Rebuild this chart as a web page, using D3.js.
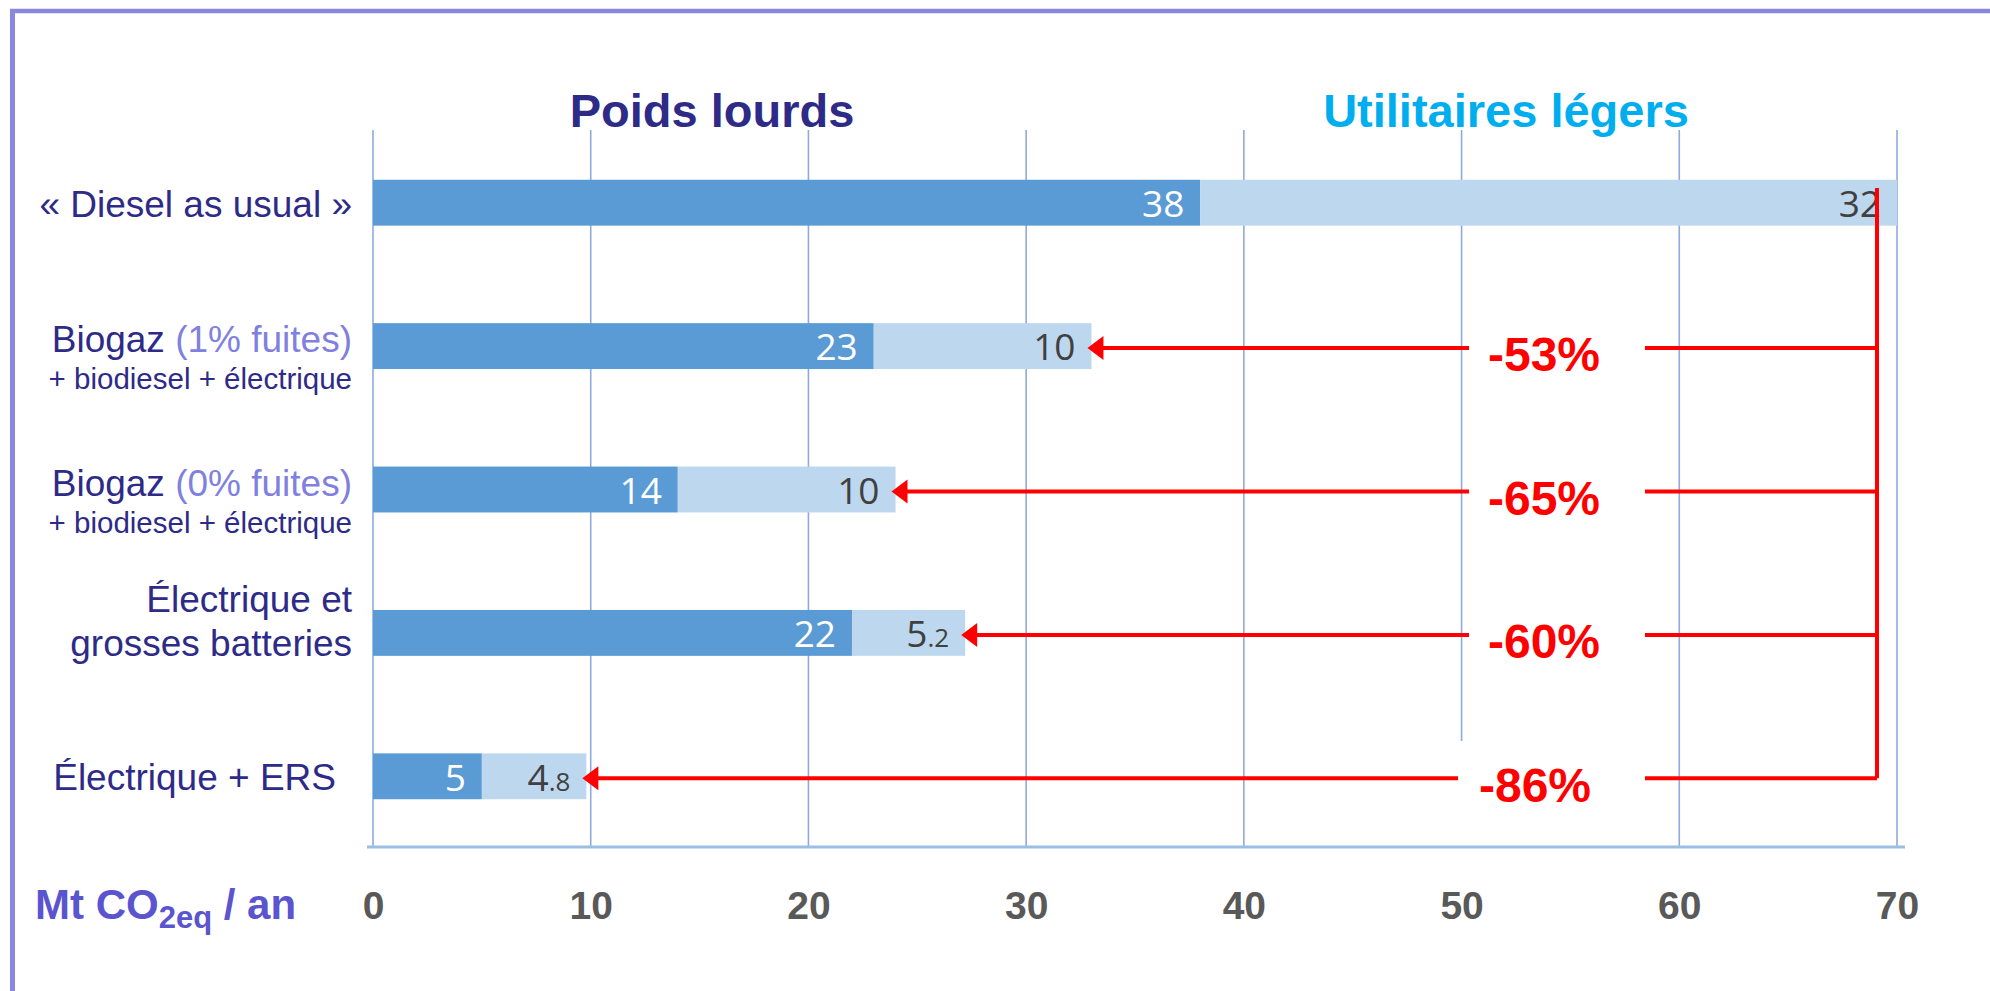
<!DOCTYPE html>
<html>
<head>
<meta charset="utf-8">
<script src="https://cdn.jsdelivr.net/npm/d3@7"></script>
<style>
  html, body { margin: 0; padding: 0; background: #ffffff; }
  svg { display: block; }
</style>
</head>
<body>
<script>
// ---------- DATA ----------
const categoryMain = ["« Diesel as usual »", "Biogaz", "Biogaz", "Électrique et", "Électrique + ERS"];
const categoryNote = ["", "(1% fuites)", "(0% fuites)", "", ""];
const categorySub  = ["", "+ biodiesel + électrique", "+ biodiesel + électrique", "grosses batteries", ""];
const seriesNames  = ["Poids lourds", "Utilitaires légers"];
const poidsLourds  = [38, 23, 14, 22, 5];
const utilitaires  = [32, 10, 10, 5.2, 4.8];
const reductions   = ["", "-53%", "-65%", "-60%", "-86%"];
const xTicks       = [0, 10, 20, 30, 40, 50, 60, 70];
const unitLabel    = ["Mt CO", "2eq", " / an"];

// ---------- SETUP ----------
const W = 1990, H = 991;
const svg = d3.select("body").append("svg").attr("width", W).attr("height", H);
svg.append("rect").attr("width", W).attr("height", H).attr("fill", "#ffffff");

// frame
svg.append("line").attr("x1", 10).attr("x2", W).attr("y1", 11).attr("y2", 11)
  .attr("stroke", "#8888dd").attr("stroke-width", 4.5);
svg.append("line").attr("x1", 12.5).attr("x2", 12.5).attr("y1", 9).attr("y2", H)
  .attr("stroke", "#8888dd").attr("stroke-width", 5);

const x = d3.scaleLinear().domain([0, 70]).range([373, 1897]);
const y = d3.scaleBand().domain(d3.range(categoryMain.length)).range([131, 848])
  .paddingInner(0.68).paddingOuter(0.34);
const yc = i => y(i) + y.bandwidth() / 2;

const COL_DARK = "#5b9bd5", COL_LIGHT = "#bdd7ee";
const NAVY = "#2e2b88", PURPLE_LIGHT = "#8080e0", CYAN = "#00aeef";

// gridlines
svg.append("g").selectAll("line").data(xTicks).join("line")
  .attr("x1", d => x(d)).attr("x2", d => x(d))
  .attr("y1", 130).attr("y2", 847)
  .attr("stroke", "#8eaadb").attr("stroke-width", 1.6);

// white box behind last reduction label (hides gridline)
svg.append("rect").attr("x", 1452).attr("y", 741).attr("width", 190).attr("height", 106)
  .attr("fill", "#ffffff");

// axis baseline
svg.append("line").attr("x1", x(0) - 6).attr("x2", x(70) + 8)
  .attr("y1", 847).attr("y2", 847)
  .attr("stroke", "#9dbde6").attr("stroke-width", 3);

// x tick labels via d3 axis
const axis = d3.axisBottom(x).tickValues(xTicks).tickSize(0).tickPadding(0).tickFormat(d3.format("d"));
const axG = svg.append("g").attr("transform", "translate(0,905)").call(axis);
axG.select(".domain").remove();
axG.selectAll("text")
  .attr("font-family", "'Liberation Sans', Arial, sans-serif")
  .attr("font-weight", "bold").attr("font-size", 39)
  .attr("fill", "#595959").attr("dy", "0.36em");

// unit label
const ut = svg.append("text").attr("x", 35).attr("y", 919)
  .attr("font-family", "'Liberation Sans', Arial, sans-serif")
  .attr("font-weight", "bold").attr("font-size", 42).attr("fill", "#5a55cf");
ut.append("tspan").text(unitLabel[0]);
ut.append("tspan").text(unitLabel[1]).attr("font-size", 31).attr("dy", 9);
ut.append("tspan").text(unitLabel[2]).attr("dy", -9);

// series titles
svg.append("text").attr("x", 712).attr("y", 127).attr("text-anchor", "middle")
  .attr("font-family", "'Liberation Sans', Arial, sans-serif").attr("font-weight", "bold")
  .attr("font-size", 47).attr("fill", NAVY).text(seriesNames[0]);
svg.append("text").attr("x", 1506).attr("y", 127).attr("text-anchor", "middle")
  .attr("font-family", "'Liberation Sans', Arial, sans-serif").attr("font-weight", "bold")
  .attr("font-size", 47).attr("fill", CYAN).text(seriesNames[1]);

// bars
const rows = d3.range(categoryMain.length);
svg.append("g").selectAll("rect").data(rows).join("rect")
  .attr("x", x(0)).attr("y", i => y(i))
  .attr("width", i => x(poidsLourds[i]) - x(0)).attr("height", y.bandwidth())
  .attr("fill", COL_DARK);
svg.append("g").selectAll("rect").data(rows).join("rect")
  .attr("x", i => x(poidsLourds[i])).attr("y", i => y(i))
  .attr("width", i => x(poidsLourds[i] + utilitaires[i]) - x(poidsLourds[i])).attr("height", y.bandwidth())
  .attr("fill", COL_LIGHT);

// data labels
const LBL_FONT = "'Open Sans', 'Liberation Sans', sans-serif";
rows.forEach(i => {
  svg.append("text").attr("x", x(poidsLourds[i]) - 16).attr("y", yc(i) + 1)
    .attr("dy", "0.36em").attr("text-anchor", "end")
    .attr("font-family", LBL_FONT).attr("font-size", 37).attr("fill", "#ffffff")
    .text(poidsLourds[i]);
  const s = String(utilitaires[i]);
  const parts = s.split(".");
  const t = svg.append("text").attr("x", x(poidsLourds[i] + utilitaires[i]) - 16).attr("y", yc(i) + 1)
    .attr("dy", "0.36em").attr("text-anchor", "end")
    .attr("font-family", LBL_FONT).attr("font-size", 37).attr("fill", "#404040");
  t.append("tspan").text(parts[0]);
  if (parts.length > 1) t.append("tspan").attr("font-size", 26).text("." + parts[1]);
});

// category labels
const CAT_FONT = "'Liberation Sans', Arial, sans-serif";
rows.forEach(i => {
  const c = yc(i);
  const hasSub = categorySub[i] !== "";
  const subSmall = categoryNote[i] !== "";
  let xr = 352;
  if (!hasSub) {
    if (i === rows.length - 1) xr = 336;
    svg.append("text").attr("x", xr).attr("y", c + 14).attr("text-anchor", "end")
      .attr("font-family", CAT_FONT).attr("font-size", 37).attr("fill", NAVY)
      .text(categoryMain[i]);
  } else if (subSmall) {
    const t = svg.append("text").attr("x", xr).attr("y", c + 6).attr("text-anchor", "end")
      .attr("font-family", CAT_FONT).attr("font-size", 37).attr("fill", NAVY);
    t.append("tspan").text(categoryMain[i] + " ");
    t.append("tspan").attr("fill", PURPLE_LIGHT).text(categoryNote[i]);
    svg.append("text").attr("x", xr).attr("y", c + 43).attr("text-anchor", "end")
      .attr("font-family", CAT_FONT).attr("font-size", 29.5).attr("fill", NAVY)
      .text(categorySub[i]);
  } else {
    svg.append("text").attr("x", xr).attr("y", c - 21).attr("text-anchor", "end")
      .attr("font-family", CAT_FONT).attr("font-size", 37).attr("fill", NAVY)
      .text(categoryMain[i]);
    svg.append("text").attr("x", xr).attr("y", c + 23).attr("text-anchor", "end")
      .attr("font-family", CAT_FONT).attr("font-size", 37).attr("fill", NAVY)
      .text(categorySub[i]);
  }
});

// red reduction annotations
const RED = "#ff0000";
const vx = 1877;
svg.append("line").attr("x1", vx).attr("x2", vx).attr("y1", 188).attr("y2", yc(rows.length - 1) + 2)
  .attr("stroke", RED).attr("stroke-width", 4);
rows.filter(i => reductions[i] !== "").forEach(i => {
  const c = yc(i) + 2;
  const last = i === rows.length - 1;
  const tip = x(poidsLourds[i] + utilitaires[i]) - 4;
  const leftEnd = last ? 1458 : 1469;
  svg.append("line").attr("x1", 1645).attr("x2", vx).attr("y1", c).attr("y2", c)
    .attr("stroke", RED).attr("stroke-width", 4);
  svg.append("line").attr("x1", tip + 14).attr("x2", leftEnd).attr("y1", c).attr("y2", c)
    .attr("stroke", RED).attr("stroke-width", 4);
  svg.append("path")
    .attr("d", `M${tip},${c} L${tip + 16},${c - 12} L${tip + 16},${c + 12} Z`)
    .attr("fill", RED);
  svg.append("text").attr("x", last ? 1535 : 1544).attr("y", c + 6)
    .attr("dy", "0.36em").attr("text-anchor", "middle")
    .attr("font-family", "'Liberation Sans', Arial, sans-serif").attr("font-weight", "bold")
    .attr("font-size", 48).attr("fill", RED).text(reductions[i]);
});
</script>
</body>
</html>
